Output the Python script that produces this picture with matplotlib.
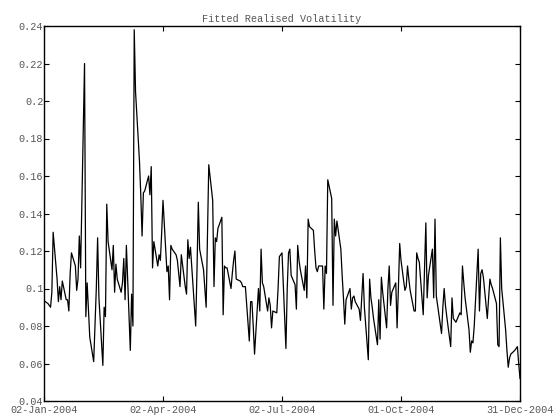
import matplotlib
matplotlib.use("Agg")
import matplotlib.pyplot as plt
import pandas as pd

# Daily fitted realised volatility, one value per business day of 2004
start_date = "2004-01-02"
end_date = "2004-12-31"

vol_jan_mar = [
    0.0935,
    0.092, 0.091, 0.090, 0.098, 0.130,
    0.105, 0.093, 0.101, 0.094, 0.104,
    0.094, 0.094, 0.088, 0.108, 0.119,
    0.112, 0.099, 0.105, 0.128, 0.111,
    0.220, 0.085, 0.103, 0.088, 0.074,
    0.061, 0.080, 0.100, 0.127, 0.095,
    0.059, 0.090, 0.085, 0.145, 0.125,
    0.110, 0.123, 0.098, 0.113, 0.105,
    0.098, 0.103, 0.116, 0.094, 0.123,
    0.067, 0.097, 0.080, 0.238, 0.205,
    0.168, 0.150, 0.128, 0.151, 0.152,
    0.160, 0.150, 0.165, 0.111, 0.125,
    0.112, 0.118, 0.115, 0.130, 0.147,
]
vol_apr_jun = [
    0.109, 0.112, 0.094, 0.123, 0.121,
    0.118, 0.115, 0.108, 0.101, 0.118,
    0.101, 0.097, 0.126, 0.116, 0.122,
    0.091, 0.080, 0.110, 0.146, 0.121,
    0.110, 0.100, 0.090, 0.128, 0.166,
    0.147, 0.101, 0.127, 0.125, 0.132,
    0.138, 0.086, 0.112, 0.111, 0.111,
    0.100, 0.108, 0.115, 0.120, 0.105,
    0.104, 0.103, 0.101, 0.101, 0.101,
    0.072, 0.093, 0.093, 0.080, 0.065,
    0.100, 0.088, 0.121, 0.103, 0.101,
    0.088, 0.095, 0.091, 0.079, 0.088,
    0.087, 0.100, 0.117, 0.118, 0.119,
]
vol_jul_sep = [
    0.068, 0.100, 0.119, 0.121, 0.107,
    0.102, 0.089, 0.123, 0.115, 0.110,
    0.099, 0.112, 0.095, 0.137, 0.133,
    0.131, 0.120, 0.111, 0.109, 0.112,
    0.112, 0.089, 0.112, 0.108, 0.158,
    0.148, 0.091, 0.137, 0.128, 0.136,
    0.121, 0.107, 0.095, 0.081, 0.094,
    0.100, 0.089, 0.095, 0.096, 0.093,
    0.089, 0.083, 0.095, 0.108, 0.090,
    0.062, 0.105, 0.095, 0.090, 0.084,
    0.070, 0.094, 0.073, 0.106, 0.098,
    0.079, 0.100, 0.112, 0.091, 0.098,
    0.103, 0.079, 0.100, 0.124, 0.115,
]
vol_oct_dec = [
    0.099, 0.101, 0.112, 0.105, 0.099,
    0.088, 0.088, 0.119, 0.116, 0.114,
    0.086, 0.110, 0.135, 0.095, 0.107,
    0.121, 0.095, 0.137, 0.096, 0.091,
    0.076, 0.090, 0.100, 0.091, 0.085,
    0.069, 0.095, 0.084, 0.083, 0.082,
    0.087, 0.086, 0.112, 0.103, 0.095,
    0.078, 0.066, 0.072, 0.071, 0.080,
    0.121, 0.088, 0.108, 0.110, 0.106,
    0.084, 0.095, 0.105, 0.102, 0.100,
    0.092, 0.070, 0.069, 0.127, 0.100,
    0.078, 0.067, 0.058, 0.063, 0.065,
    0.067, 0.068, 0.069, 0.060, 0.052,
]

tick_dates = ["2004-01-02", "2004-04-02", "2004-07-02", "2004-10-01", "2004-12-31"]
tick_labels_x = ["02-Jan-2004", "02-Apr-2004", "02-Jul-2004", "01-Oct-2004", "31-Dec-2004"]
ytick_values = [0.04, 0.06, 0.08, 0.10, 0.12, 0.14, 0.16, 0.18, 0.20, 0.22, 0.24]
ytick_labels = ["0.04", "0.06", "0.08", "0.1", "0.12", "0.14", "0.16", "0.18", "0.2", "0.22", "0.24"]

volatility = vol_jan_mar + vol_apr_jun + vol_jul_sep + vol_oct_dec
dates = pd.bdate_range(start_date, end_date)
dates = dates[: len(volatility)]

mono = ["Liberation Mono", "DejaVu Sans Mono"]
text_color = "#555555"

fig = plt.figure(figsize=(5.56, 4.17), dpi=100)
ax = fig.add_axes([44 / 556, 1 - 401 / 417, 476 / 556, 375 / 417])

ax.plot(dates, volatility, color="black", linewidth=0.9)

ax.set_xlim(pd.Timestamp(start_date), pd.Timestamp(end_date))
ax.set_ylim(0.04, 0.24)
ax.set_xticks(pd.to_datetime(tick_dates))
ax.set_xticklabels(tick_labels_x)
ax.set_yticks(ytick_values)
ax.set_yticklabels(ytick_labels)

ax.tick_params(direction="in", length=3.5, width=0.8, top=True, right=True,
               labelsize=7.3, labelcolor=text_color, color="black")
ax.tick_params(axis="y", pad=0.5)
ax.tick_params(axis="x", pad=2.8)
for lbl in ax.get_xticklabels() + ax.get_yticklabels():
    lbl.set_family(mono)
for sp in ax.spines.values():
    sp.set_linewidth(1.0)
    sp.set_color("black")

ax.set_title("Fitted Realised Volatility", family=mono, fontsize=7.3,
             color=text_color, pad=2.8)

fig.savefig("out.png", dpi=100)
